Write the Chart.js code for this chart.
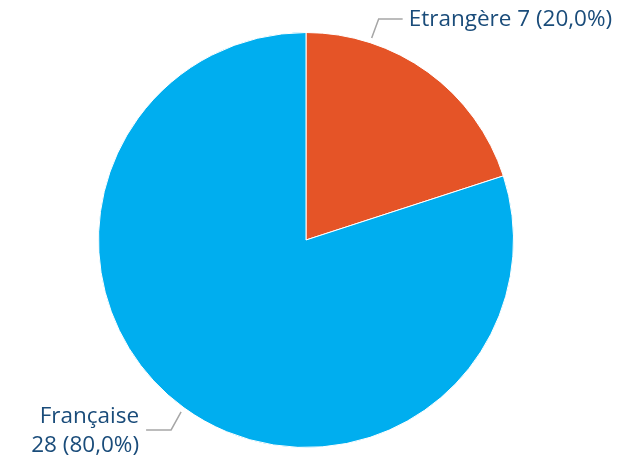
<!DOCTYPE html>
<html>
<head>
<meta charset="utf-8">
<script src="https://cdn.jsdelivr.net/npm/chart.js@4"></script>
<style>
  html, body { margin: 0; padding: 0; background: #fff; }
  #wrap { width: 644px; height: 461px; }
</style>
</head>
<body>
<div id="wrap"><canvas id="myChart" width="644" height="461"></canvas></div>
<script>
// Categories and values
var categories = ["Etrangère", "Française"];
var counts = [7, 28];
var colors = ["#E55427", "#00AEEF"];

var total = counts.reduce(function (a, b) { return a + b; }, 0);

function pct(v) {
  return (v / total * 100).toFixed(1).replace(".", ",") + "%";
}

// Leader line + label placement for each slice
var labelSetup = [
  { frac: 0.25, dx: 7, dy: -19, run: 24, lines: function (i) { return [categories[i] + " " + counts[i] + " (" + pct(counts[i]) + ")"]; } },
  { frac: 0.5, dx: -10, dy: 18, run: -25, lines: function (i) { return [categories[i], counts[i] + " (" + pct(counts[i]) + ")"]; } }
];

var pieLabels = {
  id: "pieLabels",
  afterDatasetsDraw: function (chart) {
    var ctx = chart.ctx;
    var arcs = chart.getDatasetMeta(0).data;
    ctx.save();
    ctx.font = "22.5px 'Open Sans', 'Noto Sans', sans-serif";
    ctx.fillStyle = "#1A4C7A";
    ctx.strokeStyle = "#A6A6A6";
    ctx.lineWidth = 1.5;
    arcs.forEach(function (arc, i) {
      var s = labelSetup[i];
      var p = arc.getProps(["x", "y", "startAngle", "endAngle", "outerRadius"], true);
      var a = p.startAngle + (p.endAngle - p.startAngle) * s.frac;
      var r = p.outerRadius + 5;
      var x0 = p.x + Math.cos(a) * r;
      var y0 = p.y + Math.sin(a) * r;
      var x1 = x0 + s.dx, y1 = y0 + s.dy;
      var x2 = x1 + s.run;
      ctx.beginPath();
      ctx.moveTo(x0, y0);
      ctx.lineTo(x1, y1);
      ctx.lineTo(x2, y1);
      ctx.stroke();
      var lines = s.lines(i);
      var right = s.run < 0;
      ctx.textAlign = right ? "right" : "left";
      ctx.textBaseline = "middle";
      var tx = right ? x2 - 7 : x2 + 6;
      var lh = 29;
      var top = y1 - (lines.length - 1) * lh / 2;
      lines.forEach(function (t, k) {
        ctx.fillText(t, tx, top + k * lh + 1);
      });
    });
    ctx.restore();
  }
};

var ctx = document.getElementById("myChart");

var myChart = new Chart(ctx, {
  type: "pie",
  data: {
    labels: categories,
    datasets: [{
      data: counts,
      backgroundColor: colors,
      borderColor: "#ffffff",
      borderWidth: 1
    }]
  },
  options: {
    responsive: false,
    animation: false,
    layout: { padding: { top: 32, bottom: 13, left: 98, right: 130 } },
    plugins: {
      legend: { display: false },
      tooltip: { enabled: false }
    }
  },
  plugins: [pieLabels]
});
</script>
</body>
</html>
